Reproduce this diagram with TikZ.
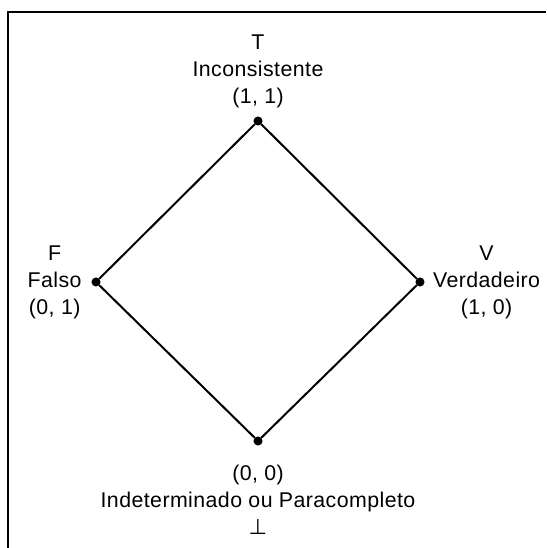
\documentclass[tikz,border=0pt]{standalone}
\usepackage{fontspec}
\setmainfont{Liberation Sans}[LetterSpace=2.0]
\newfontfamily\symfont{DejaVu Sans}
\usetikzlibrary{positioning}

\begin{document}
\begin{tikzpicture}[
		x=0.75pt, y=-0.75pt,
		vertex/.style={
			circle,
			fill=black,
			inner sep=0pt,
			minimum size=6.8pt
		},
		lbl/.style={
			align=center,
			inner sep=0pt,
			font=\fontsize{16}{20.25}\selectfont
		},
		edge/.style={line width=1.5pt, line cap=round},
		frame/.style={line width=2pt}
		]
		
		\useasboundingbox (0,0) rectangle (546,548);
		\draw[frame] (8,548) -- (8,12) -- (546,12);
		
		\node[vertex] (top) at (258,121) {};
		\node[vertex] (left) at (96,282) {};
		\node[vertex] (right) at (420,282) {};
		\node[vertex] (bot) at (258,441) {};
		
		\node[lbl, above=6pt of top] (topLbl) {T\\Inconsistente\\(1, 1)};
		\node[lbl, left=7pt of left] (leftLbl) {F\\Falso\\(0, 1)};
		\node[lbl, right=6pt of right] (rightLbl) {V\\Verdadeiro\\(1, 0)};
		\node[lbl, below=14pt of bot] (botLbl) {(0, 0)\\Indeterminado ou Paracompleto\\{\symfont ⊥}};
		
		\draw[edge] (top) -- (right);
		\draw[edge] (right) -- (bot);
		\draw[edge] (bot) -- (left);
		\draw[edge] (left) -- (top);
		
	\end{tikzpicture}
\end{document}
